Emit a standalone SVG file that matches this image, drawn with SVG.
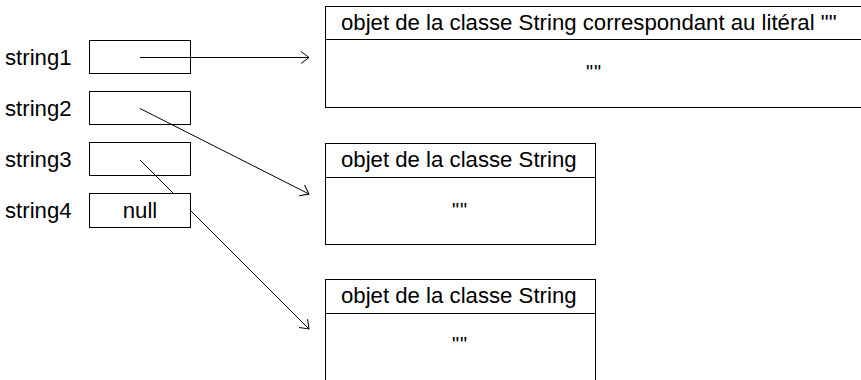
<svg xmlns="http://www.w3.org/2000/svg" width="861" height="380" viewBox="0 0 861 380">
<defs>
<style>
text{font-family:"Liberation Sans",Arial,sans-serif;font-size:22.2px;fill:#000}
.b{fill:#fff;stroke:#000;stroke-width:1}
.l{stroke:#000;stroke-width:1;fill:none}
.c{stroke:#000;stroke-width:1;fill:none;marker-end:url(#ah)}
.m{text-anchor:middle}
.q{font-size:20px;letter-spacing:1px}
</style>
<marker id="ah" markerUnits="userSpaceOnUse" markerWidth="20" markerHeight="20" viewBox="-10 -10 20 20" refX="0" refY="0" orient="auto" overflow="visible">
<path d="M-8,-6 L0,0 L-8,6" fill="none" stroke="#000" stroke-width="1"/>
</marker>
</defs>
<rect width="861" height="380" fill="#fff"/>
<g id="var-string1">
<text x="5" y="65">string1</text>
<rect class="b" x="89.5" y="40.5" width="101" height="33"/>
</g>
<g id="var-string2">
<text x="5" y="116">string2</text>
<rect class="b" x="89.5" y="91.5" width="101" height="33"/>
</g>
<g id="var-string3">
<text x="5" y="167">string3</text>
<rect class="b" x="89.5" y="142.5" width="101" height="33"/>
</g>
<g id="obj-literal">
<rect class="b" x="325.5" y="6.5" width="540" height="101"/>
<line class="l" x1="325.5" y1="39.5" x2="865" y2="39.5"/>
<text x="341" y="30">objet de la classe String correspondant au litéral ""</text>
<text class="m q" x="594" y="79">""</text>
</g>
<g id="obj-string2">
<rect class="b" x="325.5" y="143.5" width="270" height="101"/>
<line class="l" x1="325.5" y1="177.5" x2="595.5" y2="177.5"/>
<text x="341" y="167">objet de la classe String</text>
<text class="m q" x="460" y="217">""</text>
</g>
<g id="obj-string3">
<rect class="b" x="325.5" y="279.5" width="270" height="110"/>
<line class="l" x1="325.5" y1="313.5" x2="595.5" y2="313.5"/>
<text x="341" y="303">objet de la classe String</text>
<text class="m q" x="460" y="351">""</text>
</g>
<g id="connectors">
<line class="c" x1="140" y1="57.5" x2="309" y2="57.5"/>
<line class="c" x1="140" y1="108.5" x2="309" y2="194"/>
<line class="c" x1="140" y1="160" x2="309" y2="329"/>
</g>
<g id="var-string4">
<text x="5" y="218">string4</text>
<rect class="b" x="89.5" y="193.5" width="101" height="34"/>
<text class="m" x="140" y="218">null</text>
</g>
</svg>
